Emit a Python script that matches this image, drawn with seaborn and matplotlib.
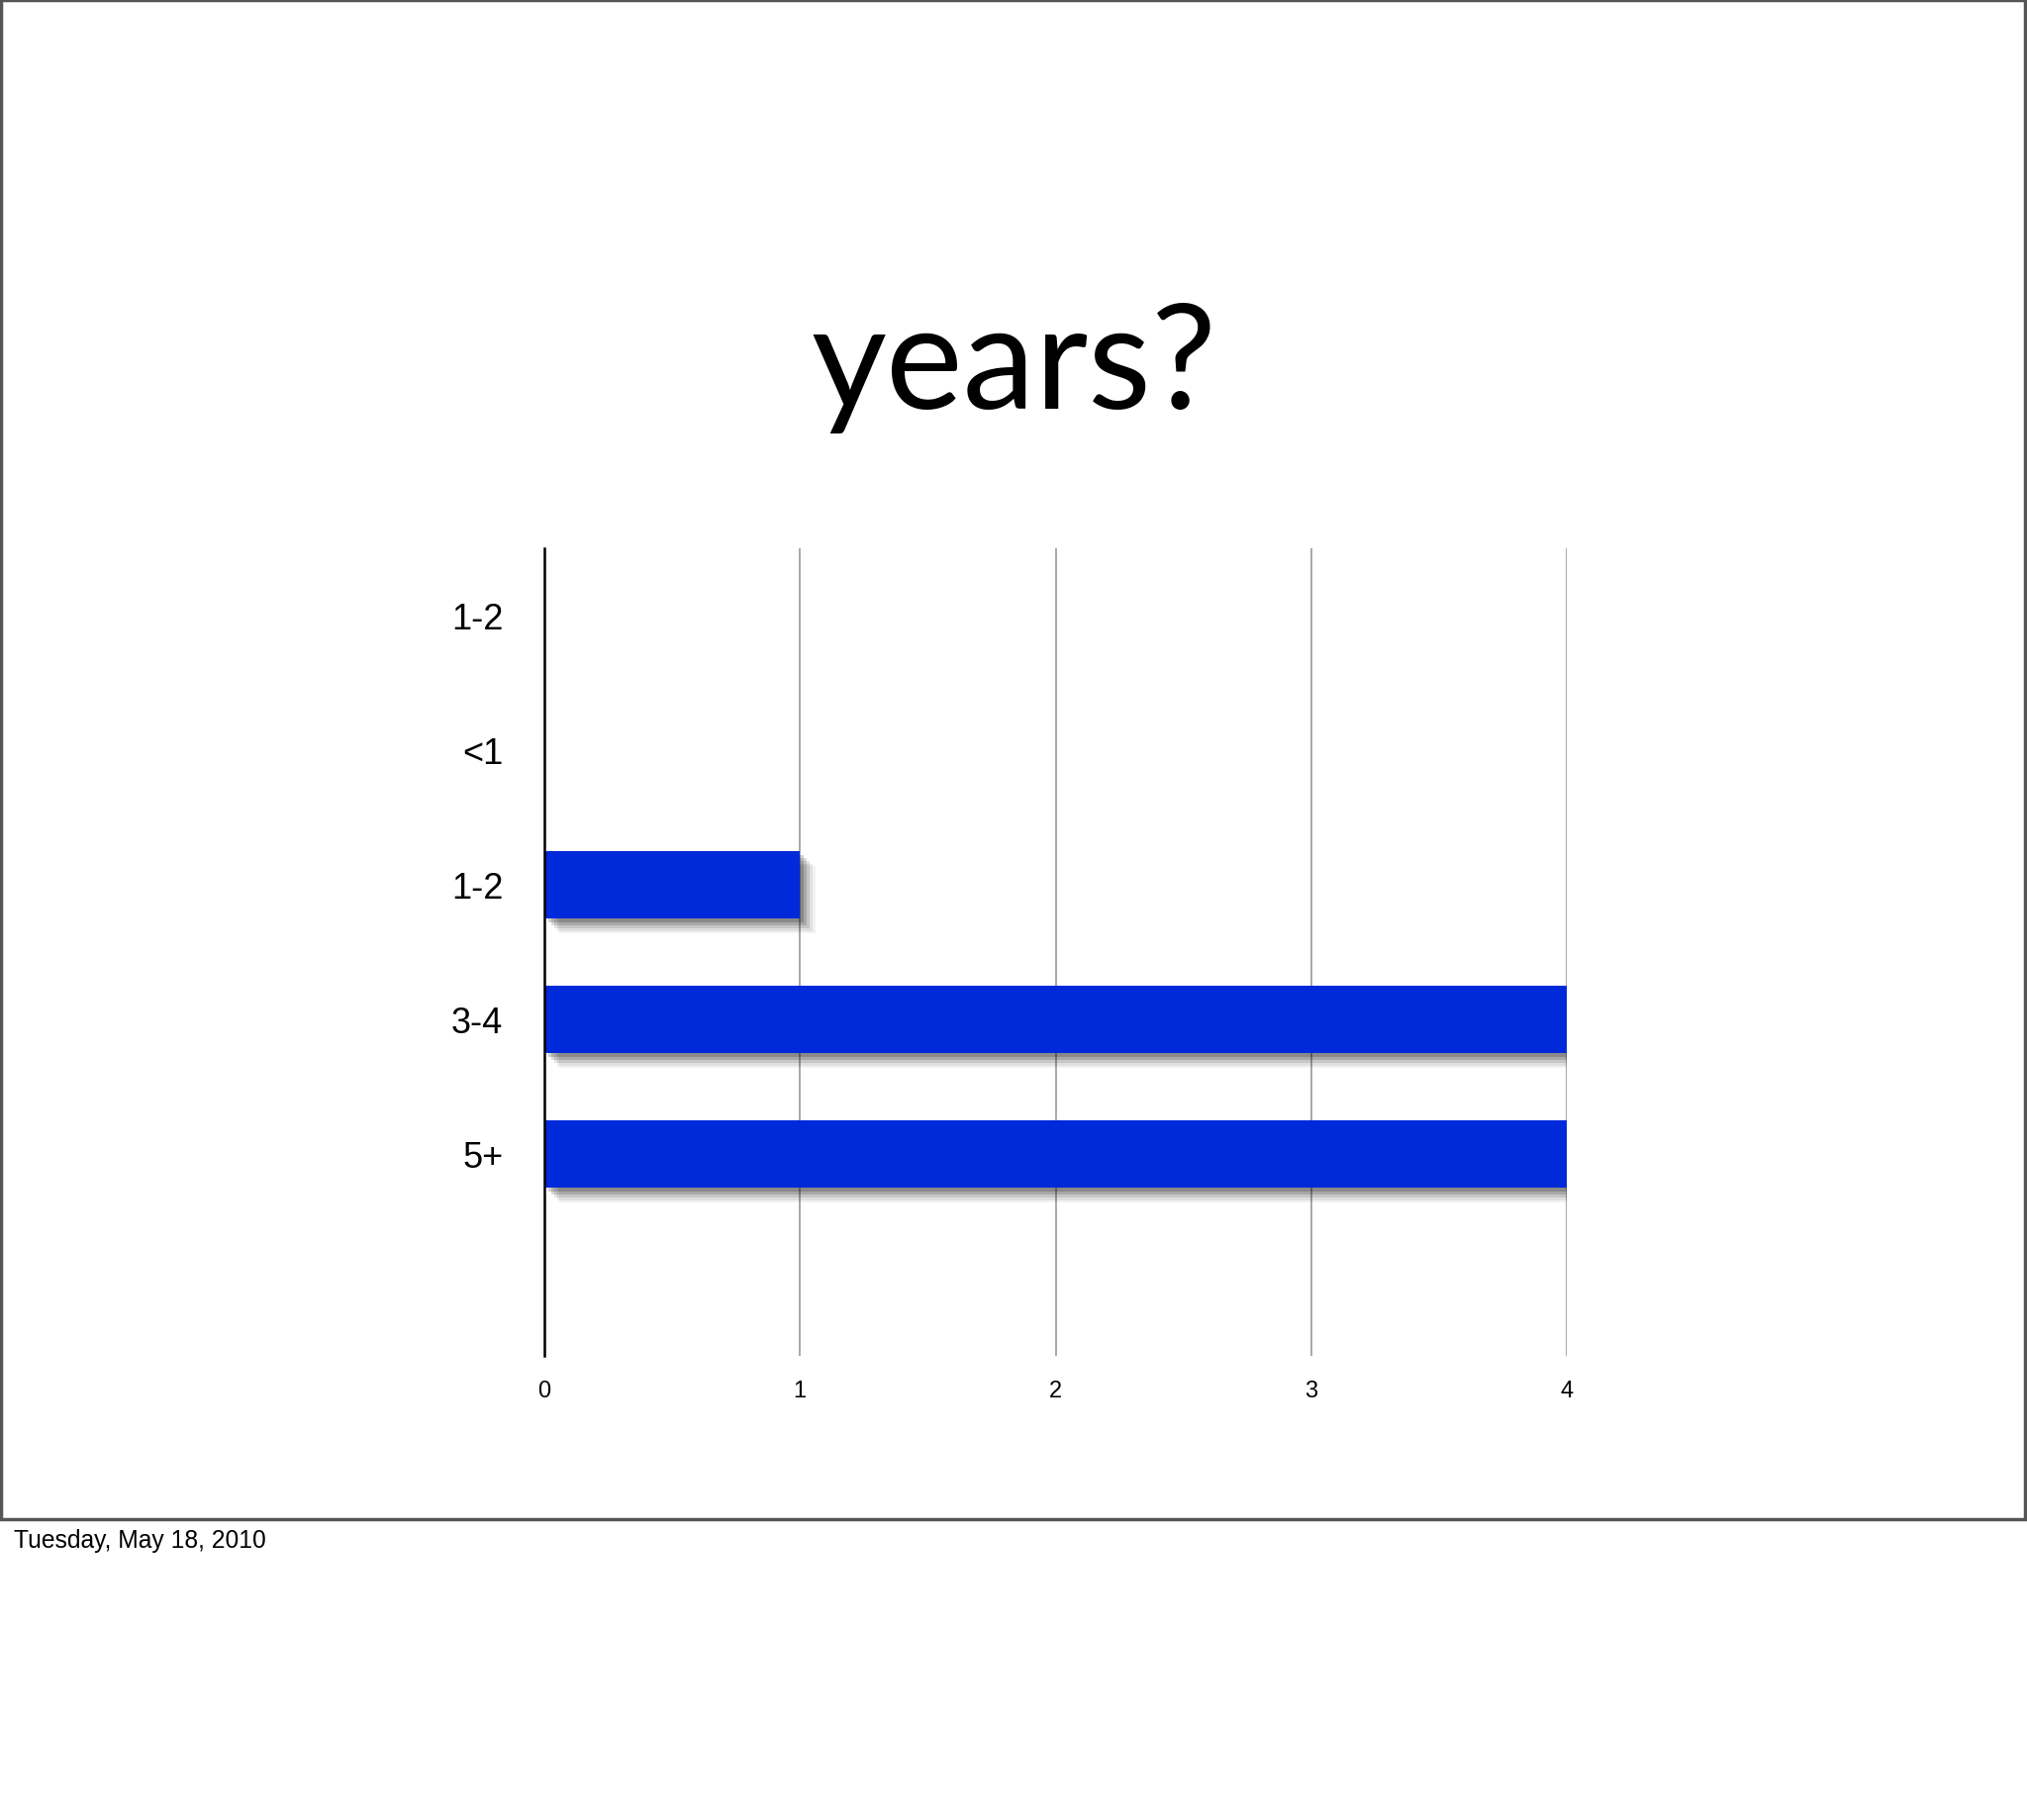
import matplotlib
matplotlib.use("Agg")
import matplotlib.pyplot as plt
import matplotlib.patheffects as pe
from matplotlib.patches import Rectangle
import seaborn as sns
import pandas as pd

# ---- data ----
slot_keys = ["s0", "s1", "s2", "s3", "s4", "s5"]
category_labels = ["1-2", "<1", "1-2", "3-4", "5+", ""]
counts = [0, 0, 1, 4, 4, 0]
x_ticks = [0, 1, 2, 3, 4]
title_text = "years?"
footer_text = "Tuesday, May 18, 2010"

df = pd.DataFrame({"slot": slot_keys, "count": counts})

sns.set_theme(style="white")
plt.rcParams["font.family"] = ["Liberation Sans", "DejaVu Sans"]

fig = plt.figure(figsize=(20.48, 18.40), dpi=100)
fig.patch.set_facecolor("white")

# slide frame
fig.patches.append(Rectangle((0.0006, 1 - 1536 / 1840), 0.9985, 1536 / 1840 - 0.0008,
                             transform=fig.transFigure, fill=False,
                             edgecolor="#555555", linewidth=2.5, zorder=0))

ax = fig.add_axes([550 / 2048, 469 / 1840, 1033 / 2048, 816 / 1840])
sns.barplot(data=df, y="slot", x="count", order=slot_keys, orient="h",
            color="#0029d9", saturation=1, width=0.5, ax=ax, linewidth=0, zorder=3)

shadow = [pe.SimplePatchShadow(offset=(o, -o), shadow_rgbFace="black", alpha=a)
          for o, a in [(11, 0.05), (9, 0.08), (7, 0.11), (5, 0.15), (3, 0.18)]] + [pe.Normal()]
for p in ax.patches:
    if p.get_width() > 0:
        p.set_path_effects(shadow)

ax.set_xlim(0, 4)
ax.set_ylim(5.5, -0.5)
ax.set_xticks(x_ticks)
ax.set_xticklabels([str(t) for t in x_ticks])
ax.set_yticks(range(len(slot_keys)))
ax.set_yticklabels(category_labels)
ax.tick_params(axis="x", length=0, pad=17, labelsize=17, colors="black")
ax.tick_params(axis="y", length=0, pad=30, labelsize=26, colors="black")
ax.set_xlabel("")
ax.set_ylabel("")

ax.grid(axis="x", color="#a0a0a0", linewidth=1.3, zorder=0)
ax.grid(axis="y", visible=False)
ax.set_axisbelow(True)
for s in ["top", "right", "bottom"]:
    ax.spines[s].set_visible(False)
ax.spines["left"].set_color("black")
ax.spines["left"].set_linewidth(1.8)
ax.spines["left"].set_zorder(5)
ax.set_facecolor("white")

fig.text(0.5, 1 - 413 / 1840, title_text, ha="center", va="baseline",
         fontsize=106, family=["Lato", "DejaVu Sans"], color="black")
fig.text(14 / 2048, 1 - 1557 / 1840, footer_text, ha="left", va="center",
         fontsize=17.7, color="black")

fig.savefig("out.png", dpi=100, facecolor="white")
